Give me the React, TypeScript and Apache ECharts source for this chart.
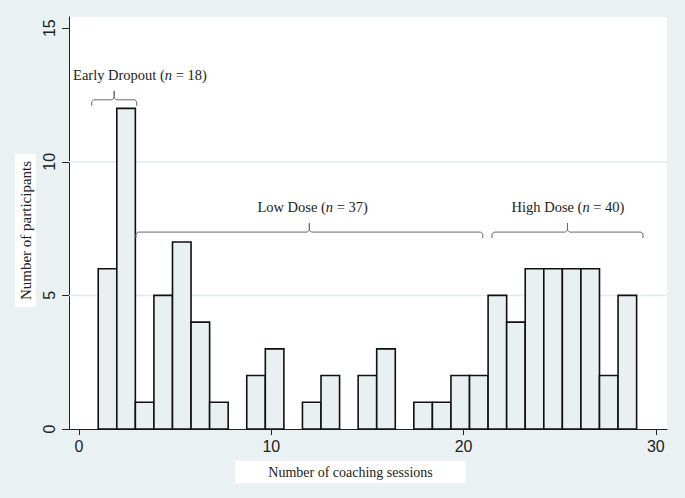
import React, { useEffect, useRef } from "react";
import * as echarts from "echarts";

// Histogram counts: number of participants per coaching-session bin (sessions 1..29)
const counts = [6, 12, 1, 5, 7, 4, 1, 0, 2, 3, 0, 1, 2, 0, 2, 3, 0, 1, 1, 2, 2, 5, 4, 6, 6, 6, 6, 2, 5];
const binMin = 1;
const binMax = 29;

const xTicks = [0, 10, 20, 30];
const yTicks = [0, 5, 10, 15];
const gridValues = [5, 10];

// Brace annotations: [start, end, y, labelX, labelY]
const braceNames = ["Early Dropout", "Low Dose", "High Dose"];
const braceN = [18, 37, 40];
const braceStart = [0.66, 2.96, 21.48];
const braceEnd = [3.0, 21.0, 29.33];
const braceY = [12.32, 7.37, 7.37];
const braceLabelX = [3.17, 12.15, 25.43];
const braceLabelY = [13.25, 8.3, 8.3];

const xTitle = "Number of coaching sessions";
const yTitle = "Number of participants";

const BG = "#E9F1F3";
const BAR_FILL = "#E8F0F2";

export default function App() {
  const ref = useRef<HTMLDivElement>(null);
  useEffect(() => {
    if (!ref.current) return;
    const chart = echarts.init(ref.current, undefined, { renderer: "svg" });
    const w = (binMax - binMin) / counts.length;
    const barData = counts.map((c, i) => [binMin + i * w, binMin + (i + 1) * w, c]);
    const braceData = braceNames.map((n, i) => [braceStart[i], braceEnd[i], braceY[i], braceLabelX[i], braceLabelY[i], i]);

    const option: any = {
      animation: false,
      backgroundColor: BG,
      grid: {
        left: 69,
        right: 18,
        top: 17,
        bottom: 69,
        show: true,
        backgroundColor: "#ffffff",
        borderWidth: 0,
      },
      xAxis: {
        type: "value",
        min: -0.52,
        max: 30.58,
        axisLine: { show: true, onZero: false, lineStyle: { color: "#222", width: 1 } },
        axisTick: { show: true, length: 6, customValues: xTicks, lineStyle: { color: "#222" } },
        axisLabel: {
          customValues: xTicks,
          margin: 9,
          fontFamily: "Liberation Sans",
          fontSize: 16,
          color: "#222",
        },
        splitLine: { show: false },
      },
      yAxis: {
        type: "value",
        min: 0,
        max: 15.42,
        axisLine: { show: true, onZero: false, lineStyle: { color: "#222", width: 1 } },
        axisTick: { show: true, length: 7, customValues: yTicks, lineStyle: { color: "#222" } },
        axisLabel: {
          customValues: yTicks,
          rotate: 90,
          margin: 12,
          fontFamily: "Liberation Sans",
          fontSize: 16,
          color: "#222",
        },
        splitLine: { show: false },
      },
      series: [
        {
          type: "custom",
          z: 1,
          silent: true,
          data: gridValues.map((v) => [v]),
          encode: { y: 0 },
          renderItem: (params: any, api: any) => {
            const cs = params.coordSys;
            const p = api.coord([0, api.value(0)]);
            return {
              type: "line",
              shape: { x1: cs.x, y1: p[1], x2: cs.x + cs.width, y2: p[1] },
              style: { stroke: "#E0EBEE", lineWidth: 1.5 },
            };
          },
        },
        {
          type: "custom",
          z: 2,
          data: barData,
          encode: { x: [0, 1], y: 2 },
          renderItem: (params: any, api: any) => {
            const v = api.value(2);
            if (!v) return null;
            const p0 = api.coord([api.value(0), 0]);
            const p1 = api.coord([api.value(1), v]);
            return {
              type: "rect",
              shape: { x: p0[0], y: p1[1], width: p1[0] - p0[0], height: p0[1] - p1[1] },
              style: { fill: BAR_FILL, stroke: "#111", lineWidth: 1.6 },
            };
          },
        },
        {
          type: "custom",
          z: 3,
          silent: true,
          clip: false,
          data: braceData,
          encode: { x: [0, 1], y: 2 },
          renderItem: (params: any, api: any) => {
            const a = api.coord([api.value(0), api.value(2)]);
            const b = api.coord([api.value(1), api.value(2)]);
            const t = api.coord([api.value(3), api.value(4)]);
            const idx = api.value(5);
            const y = a[1];
            const m = (a[0] + b[0]) / 2;
            const pts = [
              [a[0], y + 6],
              [a[0], y + 2],
              [a[0] + 2, y],
              [m - 2, y],
              [m, y - 2],
              [m, y - 9],
              [m, y - 2],
              [m + 2, y],
              [b[0] - 2, y],
              [b[0], y + 2],
              [b[0], y + 6],
            ];
            return {
              type: "group",
              children: [
                {
                  type: "polyline",
                  shape: { points: pts },
                  style: { stroke: "#666", lineWidth: 1, fill: "none" },
                },
                {
                  type: "text",
                  x: t[0],
                  y: t[1],
                  style: {
                    text: `{a|${braceNames[idx]} (}{i|n}{a| = ${braceN[idx]})}`,
                    align: "center",
                    verticalAlign: "middle",
                    rich: {
                      a: { fontFamily: "Liberation Serif", fontSize: 14.5, fill: "#222" },
                      i: { fontFamily: "Liberation Serif", fontSize: 14.5, fontStyle: "italic", fill: "#222" },
                    },
                  },
                },
              ],
            };
          },
        },
      ],
      graphic: [
        {
          type: "text",
          x: 350.5,
          y: 472,
          style: {
            text: xTitle,
            align: "center",
            verticalAlign: "middle",
            fontFamily: "Liberation Serif",
            fontSize: 14,
            fill: "#222",
            backgroundColor: "#fff",
            padding: [4, 33],
          },
        },
        {
          type: "text",
          x: 25.5,
          y: 230.5,
          rotation: Math.PI / 2,
          style: {
            text: yTitle,
            align: "center",
            verticalAlign: "middle",
            fontFamily: "Liberation Serif",
            fontSize: 15,
            fill: "#222",
            backgroundColor: "#fff",
            padding: [3, 7],
          },
        },
      ],
    };
    chart.setOption(option);
    return () => chart.dispose();
  }, []);
  return (
    <div
      ref={ref}
      style={{ position: "fixed", left: 0, top: 0, width: 685, height: 498 }}
    />
  );
}
